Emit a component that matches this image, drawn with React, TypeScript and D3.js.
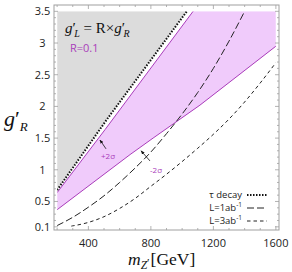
import React from 'react'
import * as d3 from 'd3'

type Pt = [number, number]

// tick labels
const xTicks = [400, 800, 1200, 1600]
const yTicks = [0.1, 0.5, 1, 1.5, 2, 2.5, 3, 3.5]

// tau decay bound (dotted), region above is excluded
const tauDecay: Pt[] = [[200, 0.68], [520, 1.8], [1030, 3.5]]
// R = 0.1 band, +2 sigma and -2 sigma edges
const upperBand: Pt[] = [[200, 0.64], [507, 1.635], [1070, 3.5]]
const lowerBand: Pt[] = [[200, 0.37], [667, 1.24], [814, 1.5], [1114, 2.02], [1600, 2.95]]
// projected reach
const lumi1: Pt[] = [[200, 0.12], [300, 0.25], [400, 0.41], [500, 0.59], [600, 0.8], [700, 1.03], [800, 1.28], [900, 1.57], [1000, 1.88], [1100, 2.22], [1200, 2.6], [1300, 3.03], [1400, 3.5]]
const lumi3: Pt[] = [[290, 0.11], [400, 0.17], [500, 0.26], [600, 0.39], [700, 0.55], [800, 0.74], [900, 0.93], [1000, 1.13], [1100, 1.34], [1200, 1.56], [1300, 1.8], [1400, 2.07], [1500, 2.37], [1600, 2.69]]

const PURPLE = '#a93cba'
const PINK = '#f0cbfb'

export default function App() {
  const x = d3.scaleLinear().domain([180, 1620]).range([54, 279])
  const y = d3.scaleLinear().domain([0.05, 3.6]).range([230, 5])
  const xMin = 200, xMax = 1600, yMin = 0.1, yMax = 3.5

  const line = d3.line<Pt>().x(d => x(d[0])).y(d => y(d[1]))
  const smooth = d3.line<Pt>().x(d => x(d[0])).y(d => y(d[1])).curve(d3.curveMonotoneX)

  const grayPoly: Pt[] = [...tauDecay, [xMin, yMax]]
  const pinkPoly: Pt[] = [...upperBand, [xMax, yMax], ...[...lowerBand].reverse()]

  const xMinor = d3.range(200, 1601, 100)
  const yMinor = d3.range(1, 36).map(v => v / 10)

  const tickColor = '#a0a0a0'
  const sans = "'Open Sans', sans-serif"
  const serif = "'Liberation Serif', 'DejaVu Serif', serif"

  return (
    <svg width={292} height={272} style={{ position: 'absolute', left: 0, top: 0, background: '#fff' }}>
      <defs>
        <clipPath id="plot">
          <rect x={x(xMin)} y={y(yMax)} width={x(xMax) - x(xMin)} height={y(yMin) - y(yMax)} />
        </clipPath>
        <marker id="arr" viewBox="0 0 10 10" refX="9" refY="5" markerWidth="5" markerHeight="5" orient="auto-start-reverse">
          <path d="M0,1 L10,5 L0,9 z" fill="#111" />
        </marker>
      </defs>

      <g clipPath="url(#plot)">
        <path d={line(grayPoly) || ''} fill="#dcdcdc" />
        <path d={line(pinkPoly) || ''} fill={PINK} />
        <path d={line(upperBand) || ''} fill="none" stroke={PURPLE} strokeWidth={1} />
        <path d={line(lowerBand) || ''} fill="none" stroke={PURPLE} strokeWidth={1} />
        <path d={line(tauDecay) || ''} fill="none" stroke="#111" strokeWidth={2} strokeDasharray="1.5 1.5" />
        <path d={smooth(lumi1) || ''} fill="none" stroke="#222" strokeWidth={1} strokeDasharray="7 3" />
        <path d={smooth(lumi3) || ''} fill="none" stroke="#222" strokeWidth={1} strokeDasharray="3.5 3" />
      </g>

      {/* frame */}
      <rect x={54} y={5} width={225} height={225} fill="none" stroke={tickColor} strokeWidth={1} />
      {xMinor.map(v => {
        const major = xTicks.includes(v)
        const l = major ? 4 : 2
        return (
          <g key={'x' + v} stroke={tickColor} strokeWidth={0.8}>
            <line x1={x(v)} x2={x(v)} y1={230} y2={230 - l} />
            <line x1={x(v)} x2={x(v)} y1={5} y2={5 + l} />
          </g>
        )
      })}
      {yMinor.map(v => {
        const major = yTicks.some(t => Math.abs(t - v) < 1e-6)
        const l = major ? 4 : 2
        return (
          <g key={'y' + v} stroke={tickColor} strokeWidth={0.8}>
            <line x1={54} x2={54 + l} y1={y(v)} y2={y(v)} />
            <line x1={279} x2={279 - l} y1={y(v)} y2={y(v)} />
          </g>
        )
      })}

      {xTicks.map(v => (
        <text key={'xl' + v} x={x(v)} y={247} textAnchor="middle" fontFamily={sans} fontSize={11} fill="#222">{v}</text>
      ))}
      {yTicks.map(v => (
        <text key={'yl' + v} x={42.5} y={y(v) + 4} textAnchor="middle" fontFamily={sans} fontSize={11} fill="#222">{v}</text>
      ))}

      {/* annotations */}
      <line x1={x(513)} y1={y(1.33)} x2={x(474)} y2={y(1.47)} stroke="#111" strokeWidth={0.8} markerEnd="url(#arr)" />
      <text x={x(526)} y={y(1.22) + 3} textAnchor="middle" fontFamily={sans} fontSize={8} fill={PURPLE}>+2σ</text>
      <line x1={x(794)} y1={y(1.14)} x2={x(737)} y2={y(1.3)} stroke="#111" strokeWidth={0.8} markerEnd="url(#arr)" />
      <text x={x(833)} y={y(1.0) + 3} textAnchor="middle" fontFamily={sans} fontSize={8} fill={PURPLE}>-2σ</text>

      {/* title */}
      <text x={65} y={33} fontFamily={serif} fontSize={15} fill="#111">
        <tspan fontStyle="italic">g</tspan>
        <tspan>′</tspan>
        <tspan fontStyle="italic" fontSize={10} dx={-1.5} dy={4}>L</tspan>
        <tspan dy={-4}> = R×</tspan>
        <tspan fontStyle="italic">g</tspan>
        <tspan>′</tspan>
        <tspan fontStyle="italic" fontSize={10} dx={-1.5} dy={4}>R</tspan>
      </text>
      <text x={70} y={52} fontFamily={sans} fontSize={11} fill={PURPLE}>R=0.1</text>

      {/* axis labels */}
      <text x={4} y={126} fontFamily={serif} fontSize={22} fill="#111">
        <tspan fontStyle="italic">g</tspan>
        <tspan>′</tspan>
        <tspan fontStyle="italic" fontSize={13} dy={5}>R</tspan>
      </text>
      <text x={128} y={265} fontFamily={serif} fontSize={17.5} fill="#111">
        <tspan fontStyle="italic">m</tspan>
        <tspan fontStyle="italic" fontSize={11.5} dy={4}>Z</tspan>
        <tspan fontSize={11.5} dy={-2}>′</tspan>
        <tspan dx={1} dy={-2}>[GeV]</tspan>
      </text>

      {/* legend */}
      <g fontFamily={sans} fontSize={9.5} fill="#222">
        <text x={242} y={198} textAnchor="end">τ decay</text>
        <text x={242} y={211} textAnchor="end">L=1ab<tspan fontSize={6.5} dy={-4}>-1</tspan></text>
        <text x={242} y={224} textAnchor="end">L=3ab<tspan fontSize={6.5} dy={-4}>-1</tspan></text>
      </g>
      <line x1={247} x2={267} y1={195} y2={195} stroke="#111" strokeWidth={2} strokeDasharray="1.5 1.5" />
      <line x1={247} x2={267} y1={208} y2={208} stroke="#222" strokeWidth={1} strokeDasharray="7 3" />
      <line x1={247} x2={267} y1={221} y2={221} stroke="#222" strokeWidth={1} strokeDasharray="3.5 3" />
    </svg>
  )
}
